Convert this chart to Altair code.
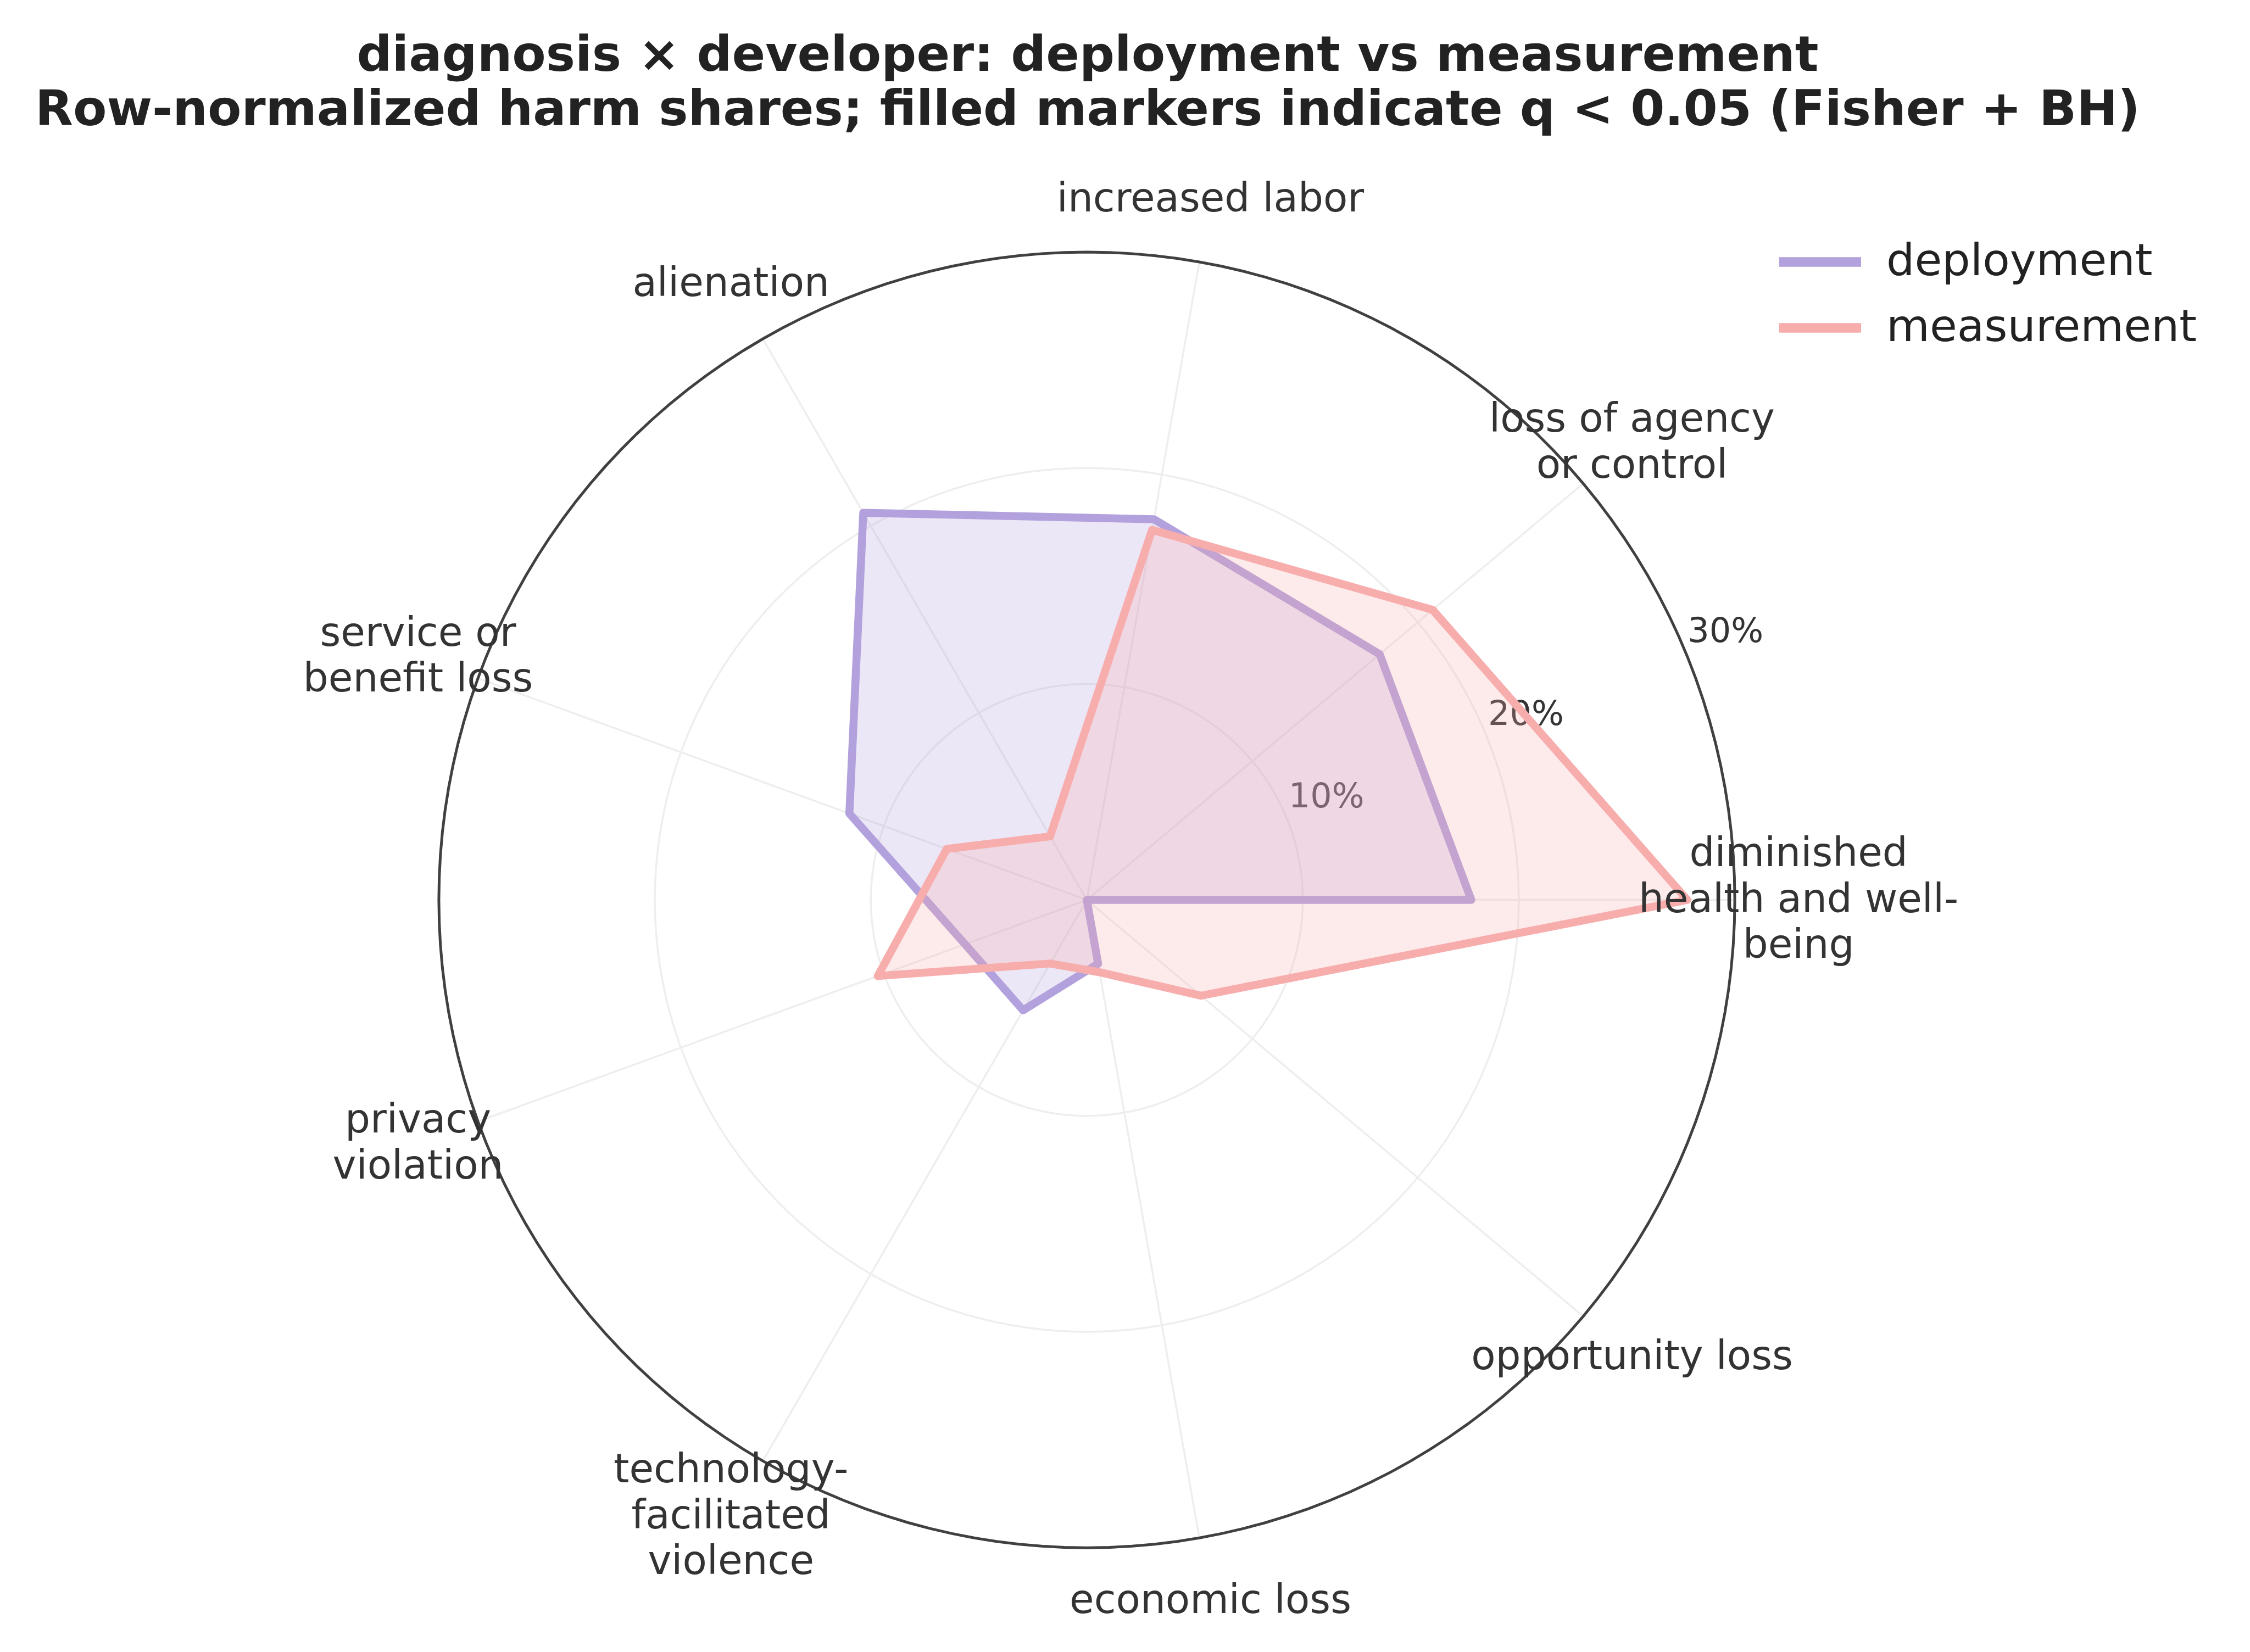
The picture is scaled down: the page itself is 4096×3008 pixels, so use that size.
import math
import altair as alt
import pandas as pd

# ---------------- data ----------------
CATEGORIES = [
    "diminished health and well-being",
    "loss of agency or control",
    "increased labor",
    "alienation",
    "service or benefit loss",
    "privacy violation",
    "technology-facilitated violence",
    "economic loss",
    "opportunity loss",
]
CATEGORY_LABELS = [
    "diminished\nhealth and well-\nbeing",
    "loss of agency\nor control",
    "increased labor",
    "alienation",
    "service or\nbenefit loss",
    "privacy\nviolation",
    "technology-\nfacilitated\nviolence",
    "economic loss",
    "opportunity loss",
]
SERIES = ["deployment", "measurement"]
DEPLOYMENT = [17.8, 17.7, 17.9, 20.7, 11.7, 6.0, 5.9, 3.0, 0.0]
MEASUREMENT = [27.8, 20.9, 17.4, 3.4, 6.9, 10.3, 3.4, 3.4, 6.9]
RING_TICKS = [10, 20, 30]
RING_LABELS = ["10%", "20%", "30%"]
RMAX = 30
TITLE_LINES = [
    "diagnosis \u00d7 developer: deployment vs measurement",
    "Row-normalized harm shares; filled markers indicate q < 0.05 (Fisher + BH)",
]

COLORS = ["#B3A1DD", "#F8ADAD"]
N = len(CATEGORIES)
STEP_DEG = 360 / N

# ---------------- tables ----------------
series_rows = []
for s, vals in zip(SERIES, [DEPLOYMENT, MEASUREMENT]):
    for i, (c, v) in enumerate(zip(CATEGORIES, vals)):
        series_rows.append({"series": s, "category": c, "idx": i, "value": v})
series_df = pd.DataFrame(series_rows)

cat_df = pd.DataFrame({
    "category": CATEGORIES,
    "label": CATEGORY_LABELS,
    "idx": list(range(N)),
    "nlines": [lbl.count("\n") + 1 for lbl in CATEGORY_LABELS],
})
ring_rows = [{"ring": t, "deg": d} for t in RING_TICKS for d in range(0, 361, 2)]
ring_df = pd.DataFrame(ring_rows)
tick_df = pd.DataFrame({"ring": RING_TICKS, "label": RING_LABELS})

# ---------------- geometry (view) ----------------
W, H = 4096, 3008
PX_PER_UNIT = 39.32
CX, CY = 1978.5, 1638.6
XDOM = [-CX / PX_PER_UNIT, (W - CX) / PX_PER_UNIT]
YDOM = [-(H - CY) / PX_PER_UNIT, CY / PX_PER_UNIT]

xs = alt.Scale(domain=XDOM, nice=False, zero=False)
ys = alt.Scale(domain=YDOM, nice=False, zero=False)


def X(f):
    return alt.X(f, type="quantitative", scale=xs, axis=None)


def Y(f):
    return alt.Y(f, type="quantitative", scale=ys, axis=None)


FONT = "DejaVu Sans"

# grid rings (10%, 20%)
rings = (
    alt.Chart(ring_df)
    .transform_filter(f"datum.ring < {RMAX}")
    .transform_calculate(
        gx="datum.ring * cos(datum.deg * PI / 180)",
        gy="datum.ring * sin(datum.deg * PI / 180)",
    )
    .mark_line(color="#EEEEEE", strokeWidth=3.5)
    .encode(x=X("gx"), y=Y("gy"), detail="ring:N", order="deg:Q")
)

# spokes
spokes = (
    alt.Chart(cat_df)
    .transform_calculate(
        x0="0",
        y0="0",
        ex=f"{RMAX} * cos(datum.idx * {STEP_DEG} * PI / 180)",
        ey=f"{RMAX} * sin(datum.idx * {STEP_DEG} * PI / 180)",
    )
    .mark_rule(color="#EEEEEE", strokeWidth=3.5)
    .encode(x=X("x0"), y=Y("y0"), x2="ex:Q", y2="ey:Q")
)

# radial tick labels at 22.5 degrees
ticklabels = (
    alt.Chart(tick_df)
    .transform_calculate(
        tx="datum.ring * cos(22.5 * PI / 180)",
        ty="datum.ring * sin(22.5 * PI / 180)",
    )
    .mark_text(align="left", baseline="alphabetic", font=FONT, fontSize=62, color="#333333", dx=4, dy=-18)
    .encode(x=X("tx"), y=Y("ty"), text="label:N")
)

color_scale = alt.Scale(domain=SERIES, range=COLORS)


def polygon(s, col):
    return (
        alt.Chart(series_df)
        .transform_filter(alt.datum.series == s)
        .transform_calculate(
            px=f"datum.value * cos(datum.idx * {STEP_DEG} * PI / 180)",
            py=f"datum.value * sin(datum.idx * {STEP_DEG} * PI / 180)",
        )
        .mark_line(
            interpolate="linear-closed",
            fill=col,
            fillOpacity=0.25,
            strokeWidth=14.5,
            strokeJoin="round",
        )
        .encode(
            x=X("px"),
            y=Y("py"),
            order="idx:Q",
            color=alt.Color(
                "series:N",
                scale=color_scale,
                legend=alt.Legend(
                    title=None,
                    orient="none",
                    legendX=3230,
                    legendY=418,
                    symbolType="stroke",
                    symbolSize=149 * 149,
                    symbolStrokeWidth=17.5,
                    clipHeight=118,
                    rowPadding=2,
                    labelFont=FONT,
                    labelFontSize=81,
                    labelColor="#222222",
                    labelOffset=37,
                    padding=0,
                    labelLimit=1000,
                ),
            ),
        )
    )


dep = polygon(SERIES[0], COLORS[0])
meas = polygon(SERIES[1], COLORS[1])

# outer circle (spine)
spine = (
    alt.Chart(ring_df)
    .transform_filter(f"datum.ring == {RMAX}")
    .transform_calculate(
        gx="datum.ring * cos(datum.deg * PI / 180)",
        gy="datum.ring * sin(datum.deg * PI / 180)",
    )
    .mark_line(color="#404040", strokeWidth=5)
    .encode(x=X("gx"), y=Y("gy"), detail="ring:N", order="deg:Q")
)

# category labels (multi-line blocks centred on their anchor)
LABEL_R = 32.95
LINE_H = 83.6
catlabels = (
    alt.Chart(cat_df)
    .transform_calculate(
        lx=f"{LABEL_R} * cos(datum.idx * {STEP_DEG} * PI / 180)",
        ly=f"{LABEL_R} * sin(datum.idx * {STEP_DEG} * PI / 180) + (datum.nlines - 1) / 2 * {LINE_H / PX_PER_UNIT}",
    )
    .mark_text(
        align="center",
        baseline="middle",
        font=FONT,
        fontSize=72.5,
        lineHeight=LINE_H,
        lineBreak="\n",
        color="#333333",
    )
    .encode(x=X("lx"), y=Y("ly"), text="label:N")
)

# title
title_df = pd.DataFrame({"text": ["\n".join(TITLE_LINES)]})
title = (
    alt.Chart(title_df)
    .mark_text(
        align="center",
        baseline="alphabetic",
        font=FONT,
        fontSize=89.5,
        fontWeight="bold",
        lineHeight=99.4,
        lineBreak="\n",
        color="#222222",
    )
    .encode(x=alt.value(1980), y=alt.value(129), text="text:N")
)

chart = (
    alt.layer(rings, spokes, ticklabels, dep, meas, spine, catlabels, title)
    .properties(
        width=W,
        height=H,
        padding=0,
        autosize=alt.AutoSizeParams(type="none"),
        background="white",
    )
    .configure_view(stroke=None)
)

chart.save("out.html", embed_options={"renderer": "svg", "actions": False})
